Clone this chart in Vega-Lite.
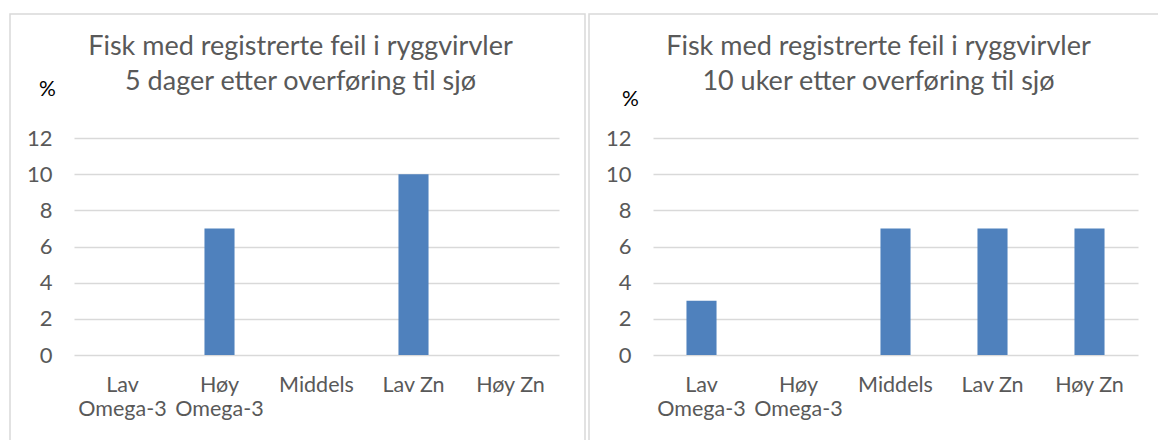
{
  "$schema": "https://vega.github.io/schema/vega-lite/v6.json",
  "padding": {"left": 9, "top": 13, "right": 0, "bottom": 0},
  "background": "white",
  "datasets": {
    "fisk": [
      {"panel": "5 dager", "kategori": "Lav\nOmega-3", "prosent": 0},
      {"panel": "5 dager", "kategori": "Høy\nOmega-3", "prosent": 7},
      {"panel": "5 dager", "kategori": "Middels", "prosent": 0},
      {"panel": "5 dager", "kategori": "Lav Zn", "prosent": 10},
      {"panel": "5 dager", "kategori": "Høy Zn", "prosent": 0},
      {"panel": "10 uker", "kategori": "Lav\nOmega-3", "prosent": 3},
      {"panel": "10 uker", "kategori": "Høy\nOmega-3", "prosent": 0},
      {"panel": "10 uker", "kategori": "Middels", "prosent": 7},
      {"panel": "10 uker", "kategori": "Lav Zn", "prosent": 7},
      {"panel": "10 uker", "kategori": "Høy Zn", "prosent": 7}
    ]
  },
  "config": {
    "view": {"stroke": "#D9D9D9", "strokeWidth": 1.5},
    "font": "Lato",
    "concat": {"spacing": 2}
  },
  "hconcat": [
    {
      "width": 575,
      "height": 430,
      "data": {"name": "fisk"},
      "transform": [{"filter": "datum.panel == '5 dager'"}],
      "title": {
        "text": ["Fisk med registrerte feil i ryggvirvler", "5 dager etter overføring til sjø"],
        "offset": -82, "fontSize": 27, "fontWeight": "normal",
        "color": "#595959", "lineHeight": 35, "dx": 3, "anchor": "middle", "frame": "group"
      },
      "mark": {"type": "bar", "color": "#4F81BD"},
      "encoding": {
        "x": {
          "field": "kategori", "type": "nominal", "sort": null,
          "scale": {"type": "band", "range": [64, 549], "paddingInner": 0.69, "paddingOuter": 0.345},
          "axis": {
            "orient": "bottom", "offset": -89, "domain": false, "ticks": false, "title": null,
            "labelPadding": 19, "labelFontSize": 21.5, "labelColor": "#595959", "labelAngle": 0,
            "labelLineHeight": 24, "labelBaseline": "top", "labelOverlap": false,
            "labelExpr": "split(datum.label, '\\n')"
          }
        },
        "y": {
          "field": "prosent", "type": "quantitative",
          "scale": {"domain": [0, 12], "range": [341, 124], "nice": false, "zero": true},
          "axis": {
            "orient": "left", "offset": 0, "values": [0, 2, 4, 6, 8, 10, 12],
            "domain": false, "ticks": false, "labelPadding": -42, "labelAlign": "right", "labelFontSize": 22,
            "labelColor": "#595959", "grid": true, "gridColor": "#D9D9D9", "gridWidth": 1.5,
            "title": "%", "titleAngle": 0, "titleX": 37, "titleY": 75, "titleAlign": "center",
            "titleBaseline": "middle", "titleColor": "#000000", "titleFontSize": 21, "titleFontWeight": "normal"
          }
        }
      }
    },
    {
      "width": 575,
      "height": 430,
      "data": {"name": "fisk"},
      "transform": [{"filter": "datum.panel == '10 uker'"}],
      "title": {
        "text": ["Fisk med registrerte feil i ryggvirvler", "10 uker etter overføring til sjø"],
        "offset": -82, "fontSize": 27, "fontWeight": "normal",
        "color": "#595959", "lineHeight": 35, "dx": 2, "anchor": "middle", "frame": "group"
      },
      "mark": {"type": "bar", "color": "#4F81BD"},
      "encoding": {
        "x": {
          "field": "kategori", "type": "nominal", "sort": null,
          "scale": {"type": "band", "range": [64, 549], "paddingInner": 0.69, "paddingOuter": 0.345},
          "axis": {
            "orient": "bottom", "offset": -89, "domain": false, "ticks": false, "title": null,
            "labelPadding": 19, "labelFontSize": 21.5, "labelColor": "#595959", "labelAngle": 0,
            "labelLineHeight": 24, "labelBaseline": "top", "labelOverlap": false,
            "labelExpr": "split(datum.label, '\\n')"
          }
        },
        "y": {
          "field": "prosent", "type": "quantitative",
          "scale": {"domain": [0, 12], "range": [341, 124], "nice": false, "zero": true},
          "axis": {
            "orient": "left", "offset": 0, "values": [0, 2, 4, 6, 8, 10, 12],
            "domain": false, "ticks": false, "labelPadding": -42, "labelAlign": "right", "labelFontSize": 22,
            "labelColor": "#595959", "grid": true, "gridColor": "#D9D9D9", "gridWidth": 1.5,
            "title": "%", "titleAngle": 0, "titleX": 41, "titleY": 85, "titleAlign": "center",
            "titleBaseline": "middle", "titleColor": "#000000", "titleFontSize": 21, "titleFontWeight": "normal"
          }
        }
      }
    }
  ]
}
